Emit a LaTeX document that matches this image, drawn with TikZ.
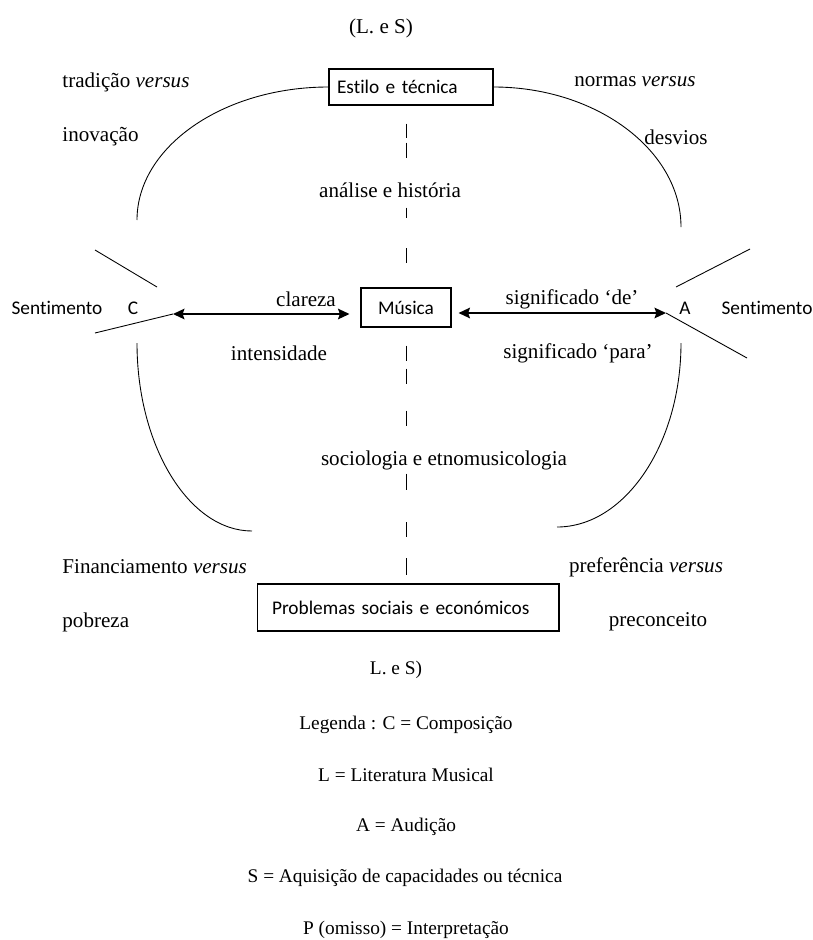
\documentclass[tikz,border=0pt]{standalone}
\usepackage{fontspec}
\setmainfont{Liberation Serif}
\newfontfamily\calibri[Ligatures=NoCommon]{Carlito}
\usetikzlibrary{arrows.meta}

\begin{document}
\begin{tikzpicture}[x=0.02cm, y=-0.02cm, line width=0.5pt,
  box/.style={draw, line width=0.6pt, inner sep=0pt, font=\calibri\fontsize{11}{13}\selectfont},
  txt/.style={inner sep=0pt, font=\fontsize{12}{14}\selectfont},
  lgd/.style={inner sep=0pt, font=\fontsize{11}{13}\selectfont},
  sans/.style={inner sep=0pt, font=\calibri\fontsize{11}{13}\selectfont},
  twoway/.style={{Stealth[length=6.5pt,width=6pt,inset=1pt]}-{Stealth[length=6.5pt,width=6pt,inset=1pt]}, line width=1pt}]

  \useasboundingbox (0,0) rectangle (813,940);

  % caixas
  \node[box, minimum width=3.28cm, minimum height=0.72cm, text width=2.96cm, inner xsep=0.16cm, align=left] (estilo) at (411,87) {Estilo e técnica};
  \node[box, minimum width=1.8cm, minimum height=0.78cm] (musica) at (406,307.5) {Música};
  \node[box, minimum height=0.94cm, text width=5.44cm, inner xsep=0.3cm, align=left] (problemas) at (408,607.5) {Problemas sociais e económicos};

  % textos
  \node[txt] (ls) at (381,28) {(L. e S)};
  \node[txt, anchor=west] (tradicao) at (62,82) {tradição \textit{versus}};
  \node[txt, anchor=west] (inovacao) at (62,137) {inovação};
  \node[txt] (normas) at (635,82) {normas \textit{versus}};
  \node[txt] (desvios) at (676,137) {desvios};
  \node[txt] (analise) at (390,190) {análise e história};
  \node[txt] (clareza) at (306,299) {clareza};
  \node[txt] (de) at (572,299) {significado ‘de’};
  \node[txt] (intensidade) at (279,353) {intensidade};
  \node[txt] (para) at (578,353) {significado ‘para’};
  \node[txt] (socio) at (444,460) {sociologia e etnomusicologia};
  \node[txt, anchor=west] (financ) at (62,567) {Financiamento \textit{versus}};
  \node[txt, anchor=west] (pobreza) at (62,622) {pobreza};
  \node[txt] (pref) at (646,567) {preferência \textit{versus}};
  \node[txt] (precon) at (658,622) {preconceito};

  \node[sans] (sentc) at (57,308) {Sentimento};
  \node[sans] (c) at (133,308) {C};
  \node[sans] (a) at (685,308) {A};
  \node[sans] (senta) at (767,308) {Sentimento};

  % legenda
  \node[lgd] (l1) at (396,670) {L. e S)};
  \node[lgd] (l2) at (406,725) {Legenda : C = Composição};
  \node[lgd] (l3) at (406,775) {L = Literatura Musical};
  \node[lgd] (l4) at (406,827) {A = Audição};
  \node[lgd] (l5) at (405,878) {S = Aquisição de capacidades ou técnica};
  \node[lgd] (l6) at (406,930) {P (omisso) = Interpretação};

  % arcos e cunhas
  \coordinate (ctip) at (173,314);
  \coordinate (atip) at (666,313);
  \draw (137,220) .. controls (137,147) and (223,87) .. (estilo.west);
  \draw (estilo.east) .. controls (596,87) and (681,150) .. (681,227);
  \draw (137,343) .. controls (137,446) and (189,531) .. (252,531);
  \draw (681,343) .. controls (681,444) and (625,527) .. (557,527);
  \draw (95,250) -- (157,287);
  \draw (95,333) -- (ctip);
  \draw (750,249) -- (676,287);
  \draw (atip) -- (747,358);

  \draw[twoway, shorten >=0.22cm] (ctip) -- (ctip -| musica.west);
  \draw[twoway, shorten <=0.14cm] (atip -| musica.east) -- (atip);

  % eixo tracejado
  \draw[dash pattern=on 0.28cm off 0.1cm on 0.3cm off 1cm on 0.2cm off 0.62cm on 0.3cm off 2.5cm, dash phase=4.94cm]
    (musica.north |- estilo.south) -- (musica.north);
  \draw[dash pattern=on 0.3cm off 0.16cm on 0.3cm off 0.54cm on 0.3cm off 0.96cm on 0.34cm off 0.64cm on 0.3cm off 0.42cm on 0.34cm off 1.5cm, dash phase=5.74cm]
    (musica.south) -- (musica.south |- problemas.north);
\end{tikzpicture}
\end{document}
